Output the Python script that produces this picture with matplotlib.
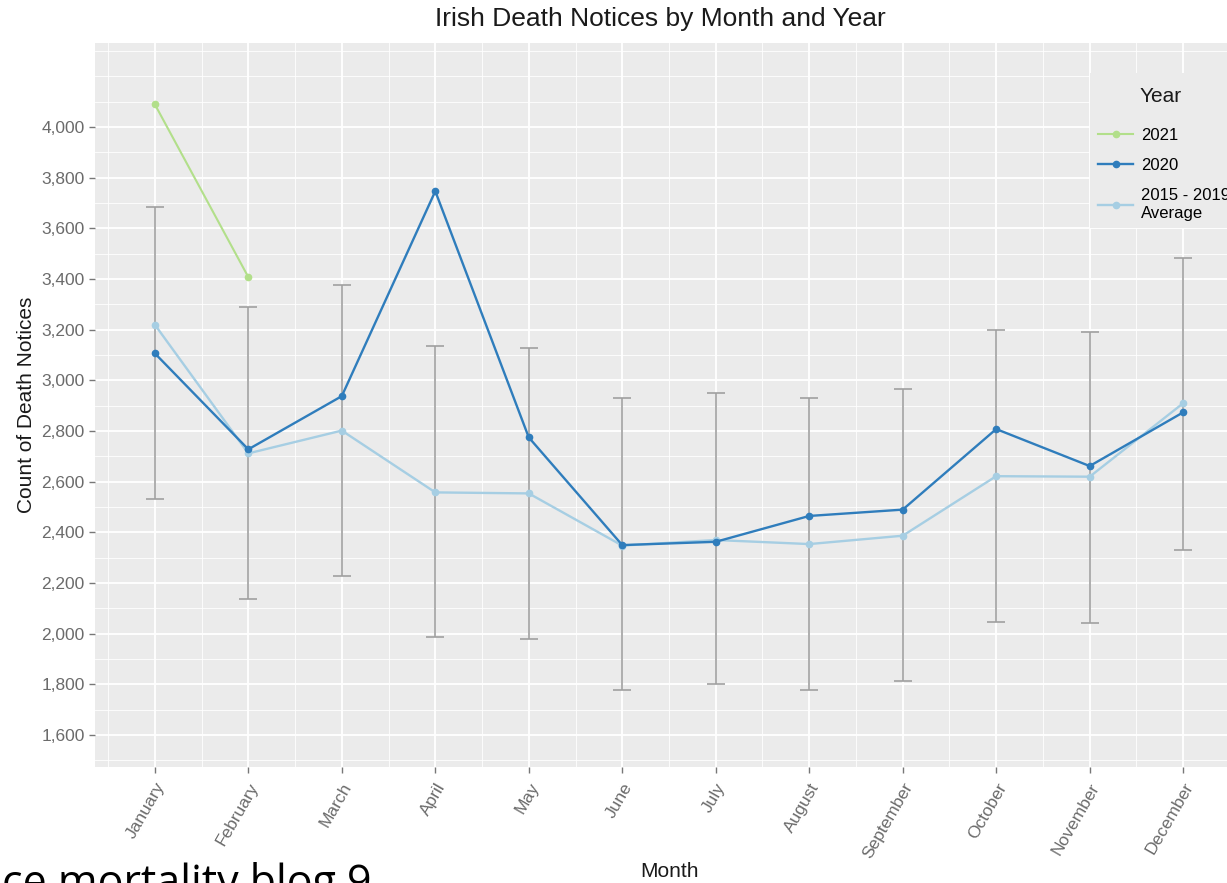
import matplotlib
matplotlib.use('Agg')
import matplotlib.pyplot as plt
from matplotlib.patches import Rectangle
from matplotlib.ticker import FuncFormatter

plt.rcParams['font.family'] = ['Liberation Sans', 'DejaVu Sans']

months = ['January', 'February', 'March', 'April', 'May', 'June', 'July',
          'August', 'September', 'October', 'November', 'December']
notices_2021 = [4090, 3408]
notices_2020 = [3107, 2728, 2938, 3747, 2775, 2350, 2363, 2465, 2490, 2808, 2662, 2874]
average_2015_2019 = [3220, 2712, 2802, 2558, 2554, 2348, 2370, 2354, 2387, 2622, 2620, 2910]
range_low = [2532, 2137, 2228, 1987, 1978, 1778, 1800, 1778, 1813, 2047, 2041, 2330]
range_high = [3686, 3288, 3376, 3137, 3129, 2929, 2949, 2929, 2966, 3199, 3192, 3482]

COLORS = {'2021': '#b2df8a', '2020': '#2f7dbc', 'avg': '#a6cee3'}
PANEL = '#ebebeb'
W, H = 1227, 883

fig = plt.figure(figsize=(W / 100, H / 100), dpi=100)
# panel runs past the right edge, like the cropped screenshot
ax = fig.add_axes([95 / W, 1 - 767 / H, 1148 / W, 724 / H])
ax.set_facecolor(PANEL)
for spine in ax.spines.values():
    spine.set_visible(False)

x = list(range(len(months)))
spans = [hi - lo for lo, hi in zip(range_low, range_high)]
ax.errorbar(x, range_low, yerr=[[0] * len(x), spans], fmt='none', ecolor='#a0a0a0',
            elinewidth=1.2, capsize=6.8, capthick=1.2, zorder=2)

h_avg, = ax.plot(x, average_2015_2019, color=COLORS['avg'], lw=1.7, marker='o', ms=4.5, zorder=3)
h_2020, = ax.plot(x, notices_2020, color=COLORS['2020'], lw=1.7, marker='o', ms=4.5, zorder=4)
h_2021, = ax.plot(x[:len(notices_2021)], notices_2021, color=COLORS['2021'], lw=1.5,
                  marker='o', ms=4.5, zorder=5)

ax.set_xlim(-0.64, 11.64)
ax.set_ylim(1474, 4332)
major_y = list(range(1600, 4001, 200))
ax.set_yticks(major_y)
ax.set_yticks([v for v in range(1500, 4301, 100) if v not in major_y], minor=True)
ax.yaxis.set_major_formatter(FuncFormatter(lambda v, _: f'{int(v):,}'))
ax.set_xticks(x)
ax.set_xticks([i - 0.5 for i in range(len(months) + 1)], minor=True)
ax.set_xticklabels(months, rotation=60, ha='right', va='top', rotation_mode='anchor')

ax.grid(which='major', color='white', lw=1.3)
ax.grid(which='minor', color='white', lw=0.6)
ax.set_axisbelow(True)
ax.tick_params(which='major', length=4.5, width=1, color='#777777', labelcolor='#6b6b6b',
               labelsize=12.5, pad=3)
ax.tick_params(axis='x', which='major', pad=5)
ax.tick_params(which='minor', length=0)

ax.set_ylabel('Count of Death Notices', fontsize=15, color='#1a1a1a')
ax.yaxis.set_label_coords((36 - 95) / 1148, 0.5)
ax.set_xlabel('Month', fontsize=15, color='#1a1a1a')
ax.xaxis.set_label_coords((669 - 95) / 1148, (767 - 862) / 724)

fig.text(660 / W, 1 - 19 / H, 'Irish Death Notices by Month and Year',
         ha='center', va='center', fontsize=19, color='#1a1a1a')

# legend sits inside the panel on a plain box that hides the grid
ax.add_patch(Rectangle((1090 / W, 1 - 228 / H), 0.2, 155 / H, transform=fig.transFigure,
                       facecolor=PANEL, edgecolor='none', zorder=1.5))
leg = ax.legend([h_2021, h_2020, h_avg], ['2021', '2020', '2015 - 2019\nAverage'],
                title=' ', loc='upper left', bbox_to_anchor=(1090 / W, 1 - 86 / H),
                bbox_transform=fig.transFigure, frameon=False, fontsize=12,
                title_fontsize=15, handlelength=2.1, handletextpad=0.45,
                labelspacing=0.9, borderpad=0.5, borderaxespad=0)
leg.set_zorder(10)
fig.text(1140 / W, 1 - 96 / H, 'Year', ha='left', va='center', fontsize=15, color='#1a1a1a')

fig.text(372 / W, 1 - 896 / H, 'ce mortality blog 9', ha='right', va='baseline',
         fontsize=31, family='Open Sans', color='black')

fig.savefig('out.png', dpi=100)
